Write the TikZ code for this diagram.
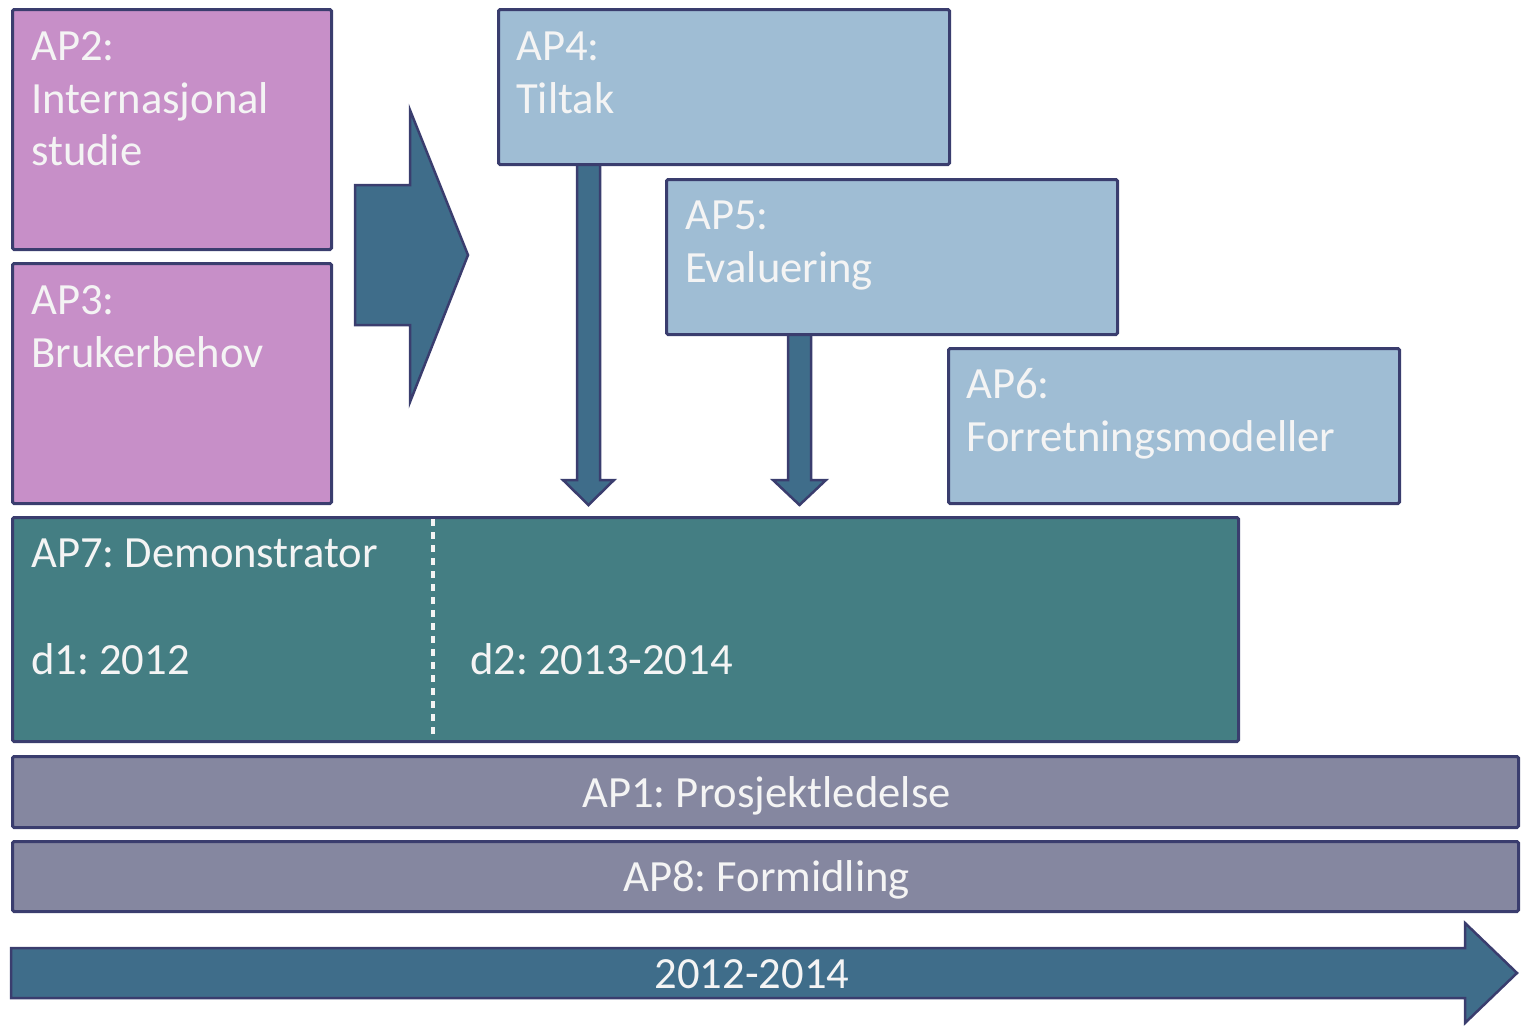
\documentclass[tikz,border=0pt]{standalone}
\usepackage{fontspec}
\setmainfont{Carlito}
\usetikzlibrary{calc}
\definecolor{edgec}{HTML}{3A3D6E}
\definecolor{pinkc}{HTML}{C78FC8}
\definecolor{bluec}{HTML}{9FBDD4}
\definecolor{tealc}{HTML}{447E83}
\definecolor{grayc}{HTML}{8587A0}
\definecolor{arrowc}{HTML}{3F6D8A}
\definecolor{txtc}{HTML}{F4F4F4}
\frenchspacing
\begin{document}
\begin{tikzpicture}[x=1pt,y=-1pt,
  box/.style={draw=edgec, line width=3pt, rounded corners=1.5pt, anchor=north west, inner sep=0pt},
  lbl/.style={anchor=base west, inner sep=0pt, text=txtc, font=\fontsize{44.6}{53}\selectfont},
  clbl/.style={anchor=base, inner sep=0pt, text=txtc, font=\fontsize{44.6}{53}\selectfont},
  blockarrow/.style={draw=edgec, line width=2.5pt, fill=arrowc, line join=miter, miter limit=20}]
\useasboundingbox (0,0) rectangle (1524,1026);

% big right arrow
\draw[blockarrow] (355,185) -- (410,185) -- (410,110) -- (468,255) -- (410,402) -- (410,325) -- (355,325) -- cycle;

% box nodes (positions)
\path (497,8) coordinate (p4) (665,178) coordinate (p5);
% down arrows (drawn before boxes so the boxes cover their tops)
\draw[blockarrow] ($(p4)+(80,145)$) -- ++(0,327) -- ++(-14,0) -- ++(25.5,25) -- ++(25.5,-25) -- ++(-14,0) -- ++(0,-327) -- cycle;
\draw[blockarrow] ($(p5)+(123,145)$) -- ++(0,157) -- ++(-15,0) -- ++(26.5,25) -- ++(26.5,-25) -- ++(-15,0) -- ++(0,-157) -- cycle;

\node[box, fill=pinkc, minimum width=319pt, minimum height=240pt] (ap2) at (11,8) {};
\node[box, fill=pinkc, minimum width=319pt, minimum height=240pt] (ap3) at (11,262) {};
\node[box, fill=bluec, minimum width=451pt, minimum height=155pt] (ap4) at (p4) {};
\node[box, fill=bluec, minimum width=451pt, minimum height=155pt] (ap5) at (p5) {};
\node[box, fill=bluec, minimum width=451pt, minimum height=155pt] (ap6) at (947,347) {};
\node[box, fill=tealc, minimum width=1226pt, minimum height=224pt] (ap7) at (11,516) {};
\node[box, fill=grayc, minimum width=1506pt, minimum height=71pt] (ap1) at (11,755) {};
\node[box, fill=grayc, minimum width=1506pt, minimum height=70pt] (ap8) at (11,840) {};

% dotted divider in AP7
\draw[txtc, line width=4pt, dash pattern=on 6.5pt off 6.5pt, shorten <=3pt, shorten >=3pt]
  ($(ap7.north west)+(422,0)$) -- ($(ap7.south west)+(422,0)$);

% time arrow
\draw[blockarrow] (11,948) -- (1465,948) -- (1465,923) -- (1517,973) -- (1465,1023) -- (1465,998) -- (11,998) -- cycle;

% labels
\node[lbl] (t2a) at ($(ap2.north west)+(20,52)$) {AP2:};
\node[lbl] (t2b) at ($(ap2.north west)+(20,105)$) {Internasjonal};
\node[lbl] (t2c) at ($(ap2.north west)+(20,157)$) {studie};
\node[lbl] (t3a) at ($(ap3.north west)+(20,52)$) {AP3:};
\node[lbl] (t3b) at ($(ap3.north west)+(20,105)$) {Brukerbehov};
\node[lbl] (t4a) at ($(ap4.north west)+(19,52)$) {AP4:};
\node[lbl] (t4b) at ($(ap4.north west)+(19,105)$) {Tiltak};
\node[lbl] (t5a) at ($(ap5.north west)+(20,51)$) {AP5:};
\node[lbl] (t5b) at ($(ap5.north west)+(20,104)$) {Evaluering};
\node[lbl] (t6a) at ($(ap6.north west)+(19,51)$) {AP6:};
\node[lbl] (t6b) at ($(ap6.north west)+(19,104)$) {Forretningsmodeller};
\node[lbl] (t7a) at ($(ap7.north west)+(20,51)$) {AP7: Demonstrator};
\node[lbl] (t7b) at ($(ap7.north west)+(20,158)$) {d1: 2012};
\node[lbl] (t7c) at ($(ap7.north west)+(459,158)$) {d2: 2013-2014};
\node[clbl] (t1) at ($(ap1.center)+(1,15)$) {AP1: Prosjektledelse};
\node[clbl] (t8) at ($(ap8.center)+(1,15)$) {AP8: Formidling};
\node[clbl] (tt) at (752,988) {2012-2014};
\end{tikzpicture}
\end{document}
